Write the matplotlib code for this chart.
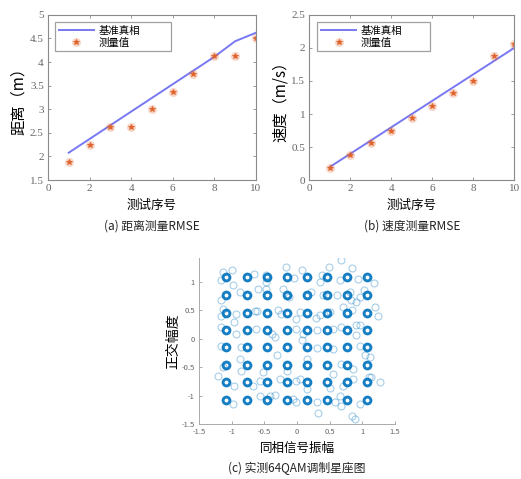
import matplotlib
matplotlib.use("Agg")
import matplotlib.pyplot as plt
import numpy as np
from matplotlib.legend_handler import HandlerTuple

plt.rcParams['font.family'] = ['Noto Sans CJK SC', 'DejaVu Sans']

# ---------------- data ----------------
test_idx = [1, 2, 3, 4, 5, 6, 7, 8, 9, 10]
dist_truth = [2.08, 2.37, 2.66, 2.95, 3.24, 3.53, 3.82, 4.11, 4.44, 4.62]
dist_meas = [1.875, 2.25, 2.625, 2.625, 3.0, 3.375, 3.75, 4.125, 4.125, 4.5]
vel_truth = [0.2, 0.4, 0.6, 0.8, 1.0, 1.2, 1.4, 1.6, 1.8, 2.0]
vel_meas = [0.1875, 0.375, 0.5625, 0.75, 0.9375, 1.125, 1.3125, 1.5, 1.875, 2.0625]

qam_levels = [-1.08, -0.77, -0.46, -0.15, 0.15, 0.46, 0.77, 1.08]

scatter_i = [-1.13, -0.99, -1.16, -0.66, -0.47, -0.48, -0.17, 0.07, -0.05, 0.39, 0.49, 0.68, 0.85, 0.94, 1.18, 0.66, 0.35,
             -0.88, -1.16, -0.60, -0.48, -0.21, -0.12, 0.22, 0.40, 0.61, 0.83, 0.91, 1.02, 0.96, 0.81, -0.98,
             -0.94, -1.16, -1.13, -0.65, -0.61, -0.29, -0.25, -0.01, 0.04, 0.29, 0.35, 0.50, 0.84, 0.70, 1.19, 1.24, 0.91,
             -1.16, -0.97, -0.93, -0.63, -0.39, -0.34, -0.01, 0.09, 0.30, 0.55, 0.68, 0.96, 0.91,
             -1.16, -0.85, -0.88, -0.31, 0.07, 0.30, 0.55, 0.96, 1.12, 1.04,
             -1.21, -1.13, -0.85, -0.52, -0.16, 0.04, 0.15, 0.55, 0.86, 0.68, 1.10,
             -0.96, -0.67, -0.57, -0.26, -0.01, 0.15, 0.50, 0.70, 0.86, 1.14, 1.27,
             -0.98, -0.57, -0.42, -0.34, -0.06, -0.01, 0.30, 0.32, 0.58, 0.68, 0.85, 0.89, 0.96, 0.66]
scatter_q = [1.18, 1.21, 1.03, 1.15, 1.13, 1.00, 1.27, 1.21, 1.07, 1.13, 1.27, 1.39, 1.24, 1.06, 0.99, 1.03, 1.00,
             0.83, 0.68, 0.88, 0.88, 0.88, 0.74, 0.83, 0.77, 0.77, 0.68, 0.65, 0.86, 0.74, 0.83, 0.94,
             0.43, 0.41, 0.53, 0.49, 0.49, 0.50, 0.44, 0.35, 0.47, 0.37, 0.42, 0.47, 0.50, 0.56, 0.56, 0.41, 0.24,
             0.21, 0.29, 0.09, 0.18, 0.09, 0.03, 0.18, 0.09, 0.15, 0.18, 0.21, 0.24, 0.06,
             -0.12, -0.15, -0.35, -0.29, -0.03, -0.17, -0.18, -0.12, -0.32, -0.29,
             -0.65, -0.50, -0.56, -0.59, -0.56, -0.71, -0.35, -0.62, -0.53, -0.44, -0.68,
             -0.83, -0.83, -0.74, -0.71, -0.74, -0.88, -0.86, -0.83, -0.71, -0.68, -0.77,
             -1.15, -1.00, -1.00, -0.99, -1.06, -1.12, -1.12, -1.30, -1.12, -1.18, -1.36, -1.42, -1.15, -1.00]

dist_yticks = [1.5, 2, 2.5, 3, 3.5, 4, 4.5, 5]
vel_yticks = [0, 0.5, 1, 1.5, 2, 2.5]
idx_xticks = [0, 2, 4, 6, 8, 10]
qam_ticks = [-1.5, -1, -0.5, 0, 0.5, 1, 1.5]

# ---------------- style ----------------
line_c = '#7878F2'
star_c = '#E0622A'
axis_c = '#8a8a8a'
tick_c = '#666666'
qam_c = '#0072BD'

fig = plt.figure(figsize=(5.21, 4.79), dpi=100)


def fmt(v):
    return ('%g' % v)


def top_axes(rect, truth, meas, ylim, yticks, ylabel, caption, leg_x0, leg_x1):
    ax = fig.add_axes(rect)
    ln, = ax.plot(test_idx, truth, color=line_c, lw=1.4)
    halo, = ax.plot(test_idx, meas, ls='none', marker='o', ms=6.5, color=star_c,
                    alpha=0.25, mec='none')
    st, = ax.plot(test_idx, meas, ls='none', marker='*', ms=4, color=star_c, mew=0.6)
    ax.set_xlim(0, 10)
    ax.set_ylim(*ylim)
    ax.set_xticks(idx_xticks)
    ax.set_xticklabels([fmt(v) for v in idx_xticks])
    ax.set_yticks(yticks)
    ax.set_yticklabels([fmt(v) for v in yticks])
    ax.tick_params(direction='in', length=2.5, width=0.6, colors=axis_c,
                   labelcolor=tick_c, top=True, right=True, pad=3)
    for lab in ax.get_xticklabels() + ax.get_yticklabels():
        lab.set_fontfamily('Liberation Serif')
        lab.set_fontsize(8)
    for s in ax.spines.values():
        s.set_color(axis_c)
        s.set_linewidth(0.8)
    ax.set_xlabel('测试序号', fontsize=9, labelpad=4)
    ax.set_ylabel(ylabel, fontsize=11, labelpad=2)
    leg = ax.legend([ln, (halo, st)], ['基准真相', '测量值'],
                    handler_map={tuple: HandlerTuple(ndivide=1)},
                    loc='upper left',
                    bbox_to_anchor=(leg_x0, 0.955, leg_x1 - leg_x0, 0.0),
                    mode='expand', fontsize=7.5, frameon=True, fancybox=False,
                    handlelength=3.4, borderpad=0.35, labelspacing=0.15,
                    handletextpad=0.4, borderaxespad=0)
    leg.get_frame().set_edgecolor('#8a8a8a')
    leg.get_frame().set_linewidth(0.9)
    ax.text(0.5, -0.28, caption, transform=ax.transAxes, ha='center', va='center',
            fontsize=8.5, color='#222222')
    return ax


top_axes([0.092, 0.624, 0.399, 0.345], dist_truth, dist_meas, (1.5, 5), dist_yticks,
         '距离（m）', '(a) 距离测量RMSE', 0.034, 0.591)
top_axes([0.594, 0.624, 0.393, 0.345], vel_truth, vel_meas, (0, 2.5), vel_yticks,
         '速度（m/s）', '(b) 速度测量RMSE', 0.038, 0.587)

# ---------------- constellation ----------------
ax3 = fig.add_axes([0.382, 0.115, 0.376, 0.346])
gi, gq = np.meshgrid(qam_levels, qam_levels)
ax3.plot(scatter_i, scatter_q, ls='none', marker='o', ms=5, mfc='none',
         mec=qam_c, mew=0.8, alpha=0.35)
ax3.plot(gi.ravel(), gq.ravel(), ls='none', marker='o', ms=4.8, mfc='none',
         mec=qam_c, mew=2.0, alpha=0.9)
ax3.plot(gi.ravel(), gq.ravel(), ls='none', marker='o', ms=6.4, mfc='none',
         mec=qam_c, mew=0.8, alpha=0.35)
ax3.set_xlim(-1.5, 1.5)
ax3.set_ylim(-1.5, 1.42)
ax3.set_xticks(qam_ticks)
ax3.set_xticklabels([fmt(v) for v in qam_ticks])
ax3.set_yticks(qam_ticks[:-1])
ax3.set_yticklabels([fmt(v) for v in qam_ticks[:-1]])
ax3.tick_params(direction='in', length=2, width=0.5, colors=axis_c,
                labelcolor=tick_c, labelsize=5.5, pad=3)
ax3.spines['top'].set_visible(False)
ax3.spines['right'].set_visible(False)
for s in ('left', 'bottom'):
    ax3.spines[s].set_color('#aaaaaa')
    ax3.spines[s].set_linewidth(0.7)
ax3.set_xlabel('同相信号振幅', fontsize=9, labelpad=4)
ax3.set_ylabel('正交幅度', fontsize=10, labelpad=1)
ax3.text(0.5, -0.27, '(c) 实测64QAM调制星座图', transform=ax3.transAxes, ha='center',
         va='center', fontsize=8.5, color='#222222')

fig.savefig('out.png', dpi=100)
